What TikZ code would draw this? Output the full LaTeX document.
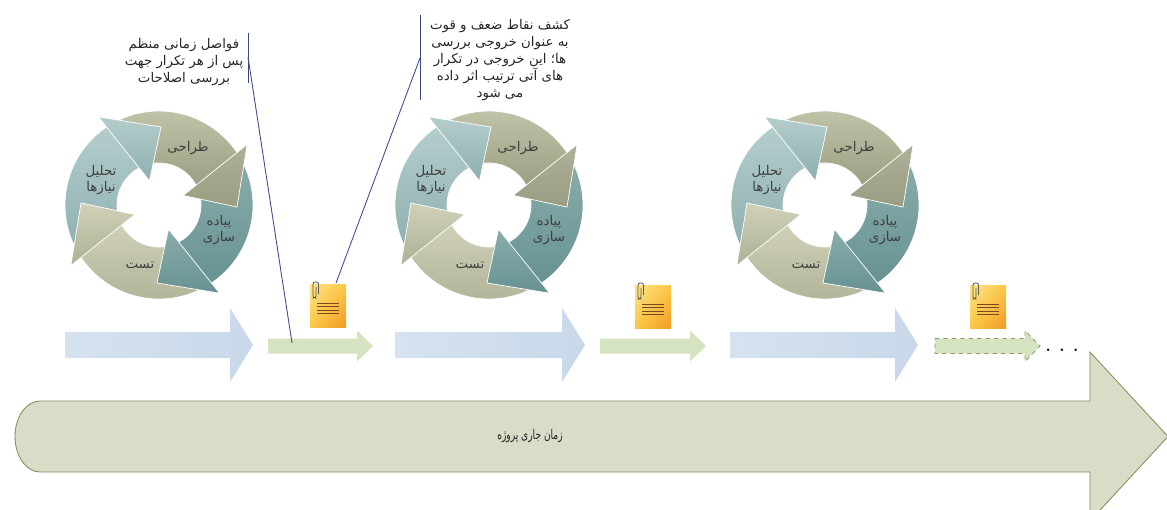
\documentclass[tikz,border=0pt]{standalone}
\usepackage{fontspec}
\usetikzlibrary{shadings}
\TeXXeTstate=1
\newfontfamily\farsiFont[Script=Arabic]{DejaVu Sans}
\newfontfamily\farsiNarrow[Script=Arabic, FakeStretch=0.68]{DejaVu Sans}
\newcommand{\fa}[1]{\beginR #1\endR}

\definecolor{tealLight}{HTML}{B3CDCC}
\definecolor{tealLightDark}{HTML}{8DB0AF}
\definecolor{oliveMid}{HTML}{C6C9AE}
\definecolor{oliveMidDark}{HTML}{9A9D80}
\definecolor{tealDeep}{HTML}{8AADAC}
\definecolor{tealDeepDark}{HTML}{679292}
\definecolor{olivePale}{HTML}{D0D1B9}
\definecolor{olivePaleDark}{HTML}{ADB093}
\definecolor{cycleLabel}{HTML}{3F3F3F}
\definecolor{flowBlue}{HTML}{C8D8EA}
\definecolor{flowBlueLight}{HTML}{D6E2EF}
\definecolor{flowGreen}{HTML}{D5E3C1}
\definecolor{flowGreenEdge}{HTML}{8E9C70}
\definecolor{timeFill}{HTML}{D9DCC7}
\definecolor{timeFillLight}{HTML}{E4E6D6}
\definecolor{timeEdge}{HTML}{858C5A}
\definecolor{noteColor}{HTML}{3A4785}
\definecolor{docLight}{HTML}{FDE48A}
\definecolor{docYellow}{HTML}{FBC846}
\definecolor{docOrange}{HTML}{F29A22}
\definecolor{docLineColor}{HTML}{7A4A1A}

\tikzstyle{timeline} = [x = 0.025cm, y = -0.025cm]
\tikzstyle{cycleEdge} = [draw=white, line width=0.5pt]
\tikzstyle{cycleText} = [font=\farsiFont\fontsize{9.5}{12}\selectfont, text=cycleLabel, align=center]
\tikzstyle{noteText} = [font=\farsiFont\fontsize{9.5}{12}\selectfont, text=black!85, align=center]
\tikzstyle{noteLine} = [color=noteColor, line width=0.6pt]
\tikzstyle{blueFlow} = [left color=flowBlueLight, right color=flowBlue]
\tikzstyle{greenFlow} = [fill=flowGreen]
\tikzstyle{greenFlowDashed} = [fill=flowGreen, draw=flowGreenEdge, dashed, line width=0.6pt]
\tikzstyle{docLine} = [color=docLineColor, line width=0.7pt]
\tikzstyle{clipLine} = [color=black!65, line width=0.6pt, rounded corners=1.5]

% #1 style, #2 start, #3 head base, #4 tip, #5 half body, #6 half head, #7 centre line
\newcommand{\flowArrow}[7]{\path[#1] (#2, #7 - #5) -- (#3, #7 - #5) -- (#3, #7 - #6) -- (#4, #7) -- (#3, #7 + #6) -- (#3, #7 + #5) -- (#2, #7 + #5) -- cycle;}

% one curved arm of a cycle, #1 is the angle of its head
\newcommand{\cycleArm}[3]{\shade[cycleEdge, top color=#2, bottom color=#3] ({#1+82}:42) -- ({#1+91}:94) arc[start angle=#1+91, end angle=#1+4, radius=94] -- ({#1-4}:42) arc[start angle=#1-4, end angle=#1+82, radius=42] -- cycle;}
\newcommand{\cycleHead}[3]{\shade[cycleEdge, top color=#2, bottom color=#3] ({#1+6}:107) -- ({#1-30}:78) -- ({#1-7}:26) -- cycle;}

\newcommand{\workCycle}[3]{
  \begin{scope}[shift={(#2,#3)}, y=0.025cm]
    \cycleArm{118.5}{tealLight}{tealLightDark}
    \cycleArm{28.5}{oliveMid}{oliveMidDark}
    \cycleArm{-61.5}{tealDeep}{tealDeepDark}
    \cycleArm{-151.5}{olivePale}{olivePaleDark}
    \cycleHead{118.5}{tealLight}{tealLightDark}
    \cycleHead{28.5}{oliveMidDark!80!white}{oliveMidDark}
    \cycleHead{-61.5}{tealDeep}{tealDeepDark}
    \cycleHead{-151.5}{olivePale}{olivePaleDark}
    \node[cycleText] (#1-design) at (29,57) {\fa{طراحی}};
    \node[cycleText] (#1-analysis) at (-58,25) {\fa{تحلیل}\\\fa{نیازها}};
    \node[cycleText] (#1-build) at (60,-25) {\fa{پیاده}\\\fa{سازی}};
    \node[cycleText] (#1-test) at (-19,-60) {\fa{تست}};
  \end{scope}
}

\newcommand{\docIcon}[3]{
  \shade[upper left=docLight, upper right=docYellow, lower left=docYellow, lower right=docOrange] (#2,#3) rectangle +(36,43);
  \foreach \row in {0,...,3} {
    \draw[docLine] (#2 + 7, #3 + 19 + \row * 3.6) -- +(22,0);
  }
  \draw[clipLine] (#2 + 8.5, #3 + 10) -- (#2 + 8.5, #3 - 2) -- (#2 + 3, #3 - 2) -- (#2 + 3, #3 + 14) -- (#2 + 6, #3 + 14) -- (#2 + 6, #3 + 3);
  \coordinate (#1) at (#2 + 26, #3 - 1);
}

\begin{document}
\begin{tikzpicture}[timeline]
  \clip (0,0) rectangle (1167,509);

  % project time line
  \shadedraw[top color=timeFill, middle color=timeFillLight, bottom color=timeFill, draw=timeEdge, line width=0.6pt]
    (1090,401) -- (40,401) arc[start angle=-90, end angle=-270, x radius=25, y radius=35.5]
    -- (1090,472) -- (1090,521) -- (1168,436.5) -- (1090,352) -- cycle;
  \node[font=\farsiNarrow\fontsize{9.5}{11}\selectfont, text=black!85] (projectTime) at (530,436) {\fa{زمان جاری پروژه}};

  % iterations and reviews
  \flowArrow{blueFlow}{65}{230}{253}{13}{37}{345}
  \flowArrow{blueFlow}{395}{562}{585}{13}{37}{345}
  \flowArrow{blueFlow}{730}{895}{918}{13}{37}{345}
  \flowArrow{greenFlow}{268}{357}{373}{7.5}{15.5}{346}
  \flowArrow{greenFlow}{600}{690}{706}{7.5}{15.5}{346}
  \flowArrow{greenFlowDashed}{935}{1025}{1040}{7.5}{15.5}{346}
  \node[font=\large\bfseries, anchor=base] (more) at (1062,351) {. . .};

  \workCycle{first}{159}{205}
  \workCycle{second}{489}{205}
  \workCycle{third}{825}{205}

  \docIcon{docA}{310}{284}
  \docIcon{docB}{635}{285}
  \docIcon{docC}{970}{285}

  % notes
  \node[noteText] (noteA) at (184,62) {\fa{فواصل زمانی منظم}\\\fa{پس از هر تکرار جهت}\\\fa{بررسی اصلاحات}};
  \coordinate (barATop) at (248,33);
  \coordinate (barABottom) at (248,83);
  \coordinate (barAMid) at (248,57);
  \coordinate (reviewA) at (292,343);
  \draw[noteLine] (barATop) -- (barABottom);
  \draw[noteLine] (barAMid) -- (reviewA);

  \node[noteText] (noteB) at (500,60) {\fa{کشف نقاط ضعف و قوت}\\\fa{به عنوان خروجی بررسی}\\\fa{ها؛ این خروجی در تکرار}\\\fa{های آتی ترتیب اثر داده}\\\fa{می شود}};
  \coordinate (barBTop) at (420,15);
  \coordinate (barBBottom) at (420,100);
  \coordinate (barBMid) at (420,58);
  \draw[noteLine] (barBTop) -- (barBBottom);
  \draw[noteLine] (barBMid) -- (docA);
\end{tikzpicture}
\end{document}
